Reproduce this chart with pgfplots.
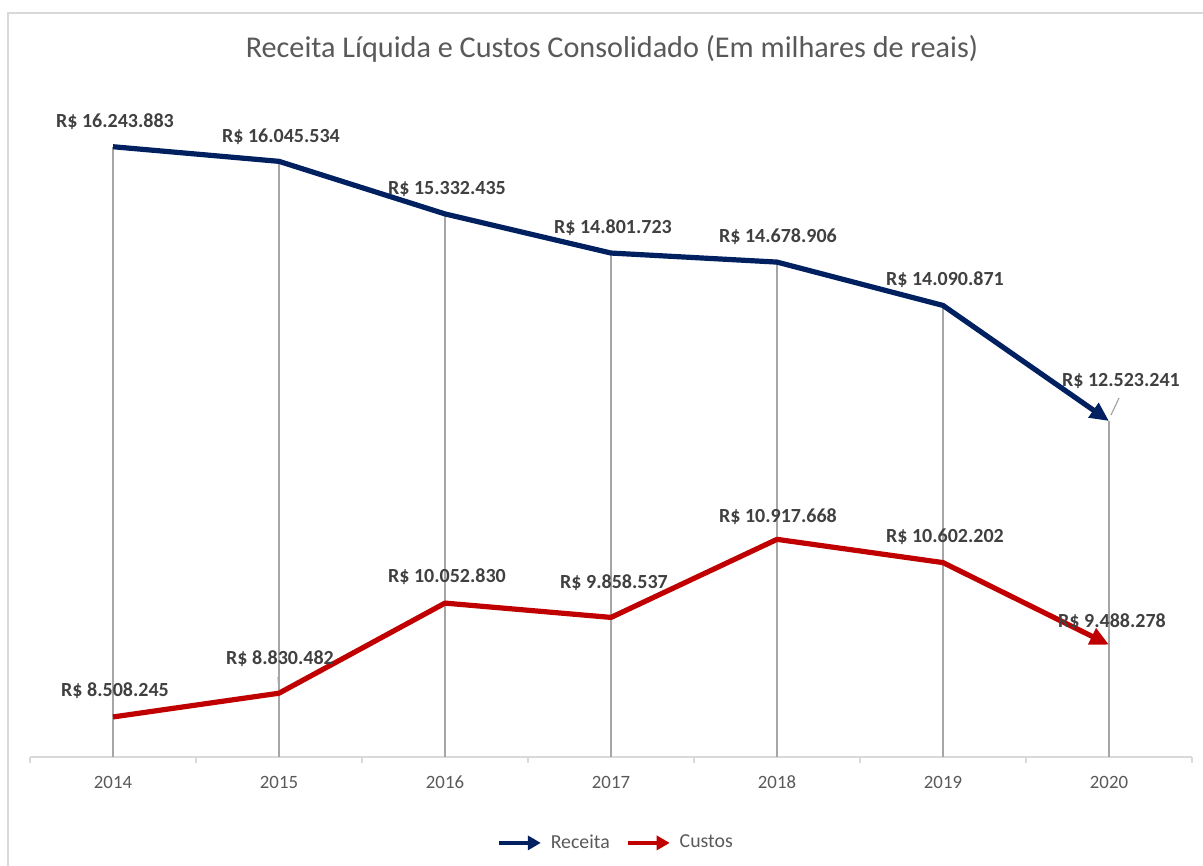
\documentclass[border=0pt]{standalone}
\usepackage{pgfplots}
\pgfplotsset{compat=1.18}
\usepackage{pgfplotstable}
\usepackage{fontspec}
\setmainfont{Carlito}
\usetikzlibrary{arrows.meta}
\definecolor{navy}{HTML}{002060}
\definecolor{cred}{HTML}{C00000}
\definecolor{txtgray}{HTML}{595959}
\definecolor{lblgray}{HTML}{404040}
\definecolor{axgray}{HTML}{D9D9D9}
\definecolor{dropgray}{HTML}{A6A6A6}

\pgfplotstableread[col sep=comma]{
x,y,lab,dx,dy
0,16243883,R\$ 16.243.883,2,25
1,16045534,R\$ 16.045.534,2,25
2,15332435,R\$ 15.332.435,2,25
3,14801723,R\$ 14.801.723,2,25
4,14678906,R\$ 14.678.906,1,25
5,14090871,R\$ 14.090.871,2,26
6,12523241,R\$ 12.523.241,12,40
}\receita

\pgfplotstableread[col sep=comma]{
x,y,lab,dx,dy
0,8508245,R\$ 8.508.245,2,26
1,8830482,R\$ 8.830.482,1,35
2,10052830,R\$ 10.052.830,2,26
3,9858537,R\$ 9.858.537,3,35
4,10917668,R\$ 10.917.668,1,23
5,10602202,R\$ 10.602.202,2,26
6,9488278,R\$ 9.488.278,3,23
}\custos

\pgfplotsset{lbl/.style={
  nodes near coords,
  point meta=explicit symbolic,
  visualization depends on={\thisrow{dx} \as \dx},
  visualization depends on={\thisrow{dy} \as \dy},
  every node near coord/.append style={font=\fontsize{10}{12}\bfseries\selectfont, text=lblgray, anchor=center, xshift=\dx*0.5pt, yshift=\dy*0.5pt},
}}

\begin{document}
\begin{tikzpicture}
\useasboundingbox (0,0) rectangle (601.5pt,433pt);
\draw[axgray, line width=1pt] (4pt,0pt) -- (4pt,426.5pt) -- (601.5pt,426.5pt);
\node[txtgray, font=\fontsize{15.1}{18}\selectfont] at (306pt,408.5pt) {Receita Líquida e Custos Consolidado (Em milhares de reais)};
\begin{axis}[
  at={(15pt,54.5pt)}, anchor=south west,
  scale only axis, width=581pt, height=333pt,
  xmin=-0.5, xmax=6.5, ymin=7965000, ymax=17000000,
  clip=false,
  axis x line*=bottom, axis y line=none,
  x axis line style={axgray, line width=1pt},
  xtick={0,...,6}, xticklabels={2014,2015,2016,2017,2018,2019,2020},
  major tick length=0pt,
  extra x ticks={-0.5,0.5,1.5,2.5,3.5,4.5,5.5,6.5},
  extra x tick labels={},
  extra x tick style={major tick length=3pt, tick align=outside, tick style={axgray, line width=1pt}},
  xticklabel style={font=\fontsize{9.4}{11}\selectfont, text=txtgray, anchor=center, yshift=-12.5pt},
  legend style={at={(axis description cs:0.505,-0.129)}, anchor=center, draw=none, fill=none,
    font=\fontsize{9.9}{11}\selectfont, text=txtgray, legend columns=2,
    /tikz/every even column/.append style={column sep=6pt},
    /tikz/every odd column/.append style={column sep=2pt}},
  legend image code/.code={\draw[#1, line width=2pt, -{Triangle[length=6.5pt,width=7pt]}] (0pt,0pt) -- (21pt,0pt);},
]
\addplot[dropgray, line width=0.75pt, unbounded coords=jump, forget plot] coordinates {
 (0,7965000) (0,16243883) (0,nan)
 (1,7965000) (1,16045534) (1,nan)
 (2,7965000) (2,15332435) (2,nan)
 (3,7965000) (3,14801723) (3,nan)
 (4,7965000) (4,14678906) (4,nan)
 (5,7965000) (5,14090871) (5,nan)
 (6,7965000) (6,12523241)
};
\draw[dropgray, line width=0.6pt] ([shift={(1pt,3pt)}]axis cs:6,12523241) -- ([shift={(5pt,11.5pt)}]axis cs:6,12523241);
\draw[dropgray, line width=0.6pt] ([shift={(0pt,1.5pt)}]axis cs:1,8830482) -- ([shift={(-0.5pt,8pt)}]axis cs:1,8830482);
\addplot[navy, line width=2.6pt, line join=round, -{Triangle[length=9.5pt,width=8.5pt]}, lbl, forget plot]
  table[x=x, y=y, meta=lab] {\receita};
\addplot[cred, line width=2.6pt, line join=round, -{Triangle[length=9.5pt,width=8.5pt]}, lbl, forget plot]
  table[x=x, y=y, meta=lab] {\custos};
\addlegendimage{navy}
\addlegendentry{Receita}
\addlegendimage{cred}
\addlegendentry{Custos}
\end{axis}
\end{tikzpicture}
\end{document}
